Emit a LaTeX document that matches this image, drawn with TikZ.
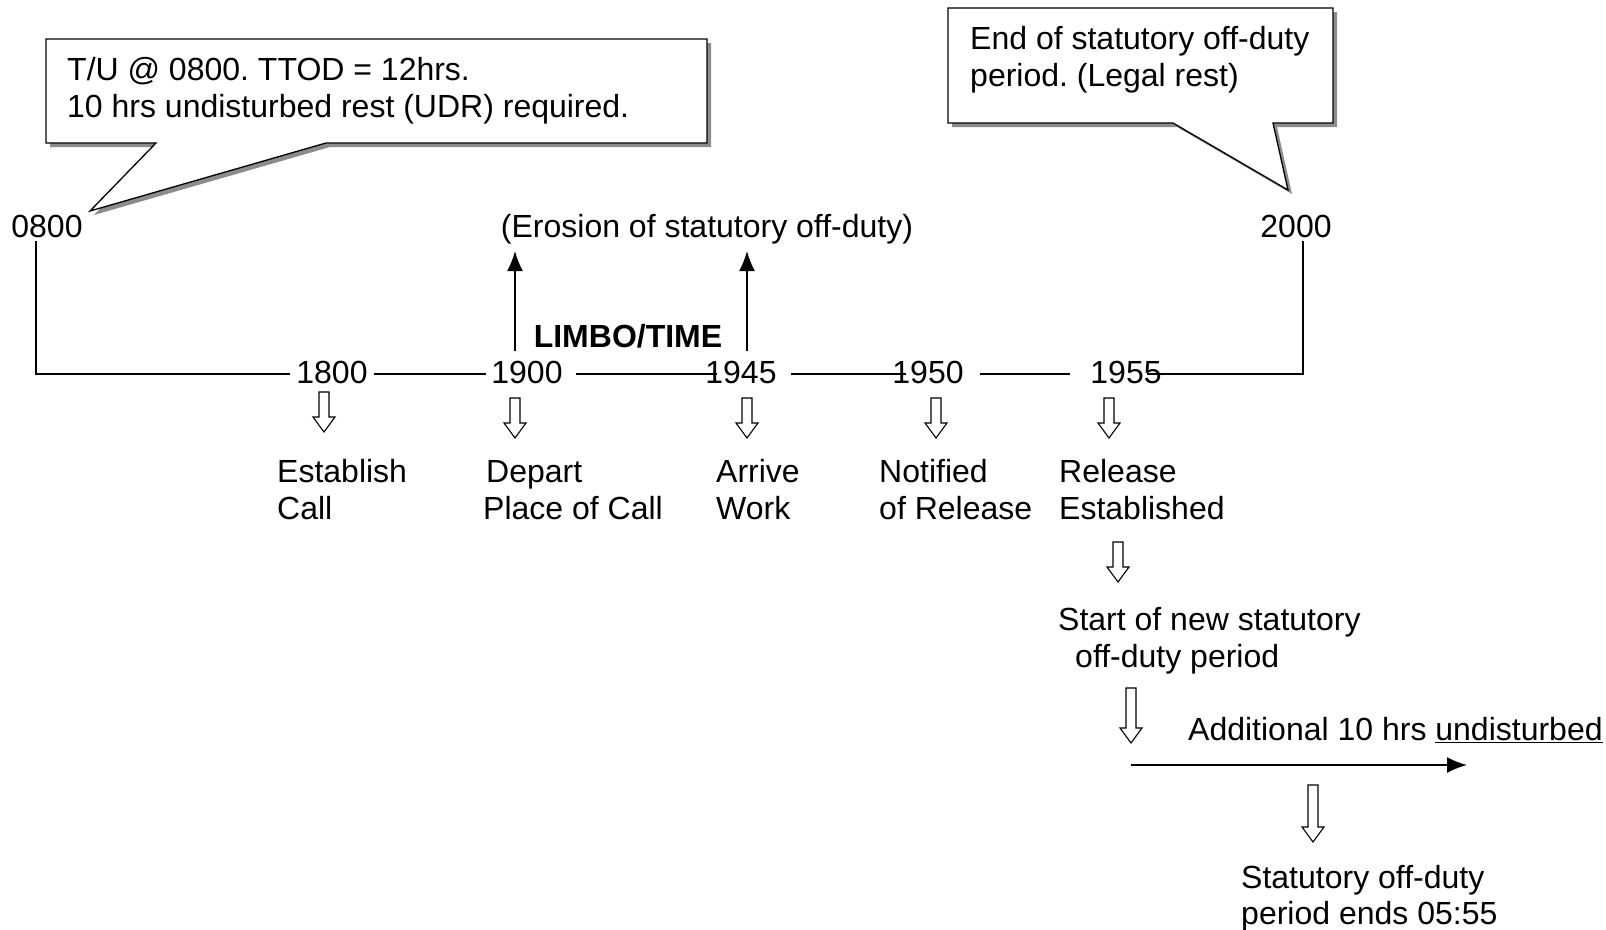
\documentclass[tikz,border=0pt]{standalone}
\usepackage{fontspec}
\setmainfont{Liberation Sans}
\frenchspacing
\usetikzlibrary{arrows.meta}
\tikzset{
  lbl/.style={inner sep=0pt, anchor=base west, font=\fontsize{32}{37}\selectfont},
  lblc/.style={inner sep=0pt, anchor=base, font=\fontsize{32}{37}\selectfont},
  tl/.style={line width=1.4pt},
  uparr/.style={line width=1.8pt, -{Latex[length=20pt,width=16pt]}},
  hollow/.style={line width=1.1pt, fill=white, line join=miter},
  callout/.style={line width=1.3pt, fill=white, line join=miter},
  shadow/.style={fill=black!45}
}
\newcommand{\hdarrow}[3]{% x, top, bottom
  \draw[hollow] (#1-5,#2) -- (#1+5,#2) -- (#1+5,#3-15) -- (#1+11,#3-15) -- (#1,#3) -- (#1-11,#3-15) -- (#1-5,#3-15) -- cycle;}
\begin{document}
\begin{tikzpicture}[x=1pt,y=-1pt]
\useasboundingbox (0,0) rectangle (1606,929);
% callout 1
\fill[shadow] (50,43) -- (711,43) -- (711,147) -- (330,147) -- (94,215) -- (160,147) -- (50,147) -- cycle;
\draw[callout] (46,39) -- (707,39) -- (707,143) -- (326,143) -- (90,211) -- (156,143) -- (46,143) -- cycle;
\node[lbl] (c1a) at (67,80) {T/U @ 0800. TTOD = 12hrs.};
\node[lbl] (c1b) at (67,117) {10 hrs undisturbed rest (UDR) required.};
% callout 2
\fill[shadow] (952,12) -- (1337,12) -- (1337,127) -- (1277,127) -- (1292,194) -- (1177,127) -- (952,127) -- cycle;
\draw[callout] (948,8) -- (1333,8) -- (1333,123) -- (1273,123) -- (1288,190) -- (1173,123) -- (948,123) -- cycle;
\node[lbl] (c2a) at (970,49) {End of statutory off-duty};
\node[lbl] (c2b) at (970,86) {period. (Legal rest)};
% top labels
\node[lblc] (t0800) at (47,237.5) {0800};
\node[lblc] (t2000) at (1296,237.5) {2000};
\node[lblc] (eros) at (707,237.5) {(Erosion of statutory off-duty)};
\node[lblc, font=\fontsize{32}{37}\selectfont\bfseries] (limbo) at (628,347.5) {LIMBO/TIME};
% timeline numbers
\node[lblc] (t1800) at (332,383.5) {1800};
\node[lblc] (t1900) at (527,383.5) {1900};
\node[lblc] (t1945) at (741,383.5) {1945};
\node[lblc] (t1950) at (928,383.5) {1950};
\node[lblc] (t1955) at (1126,383.5) {1955};
% timeline lines
\coordinate (lt) at (36,241);
\coordinate (lb) at (36,374);
\coordinate (rt) at (1303,241);
\coordinate (rb) at (1303,374);
\draw[tl] (lt) -- (lb) -- (290,374);
\draw[tl] (374,374) -- (486,374);
\draw[tl] (576,374) -- (717,374);
\draw[tl] (791,374) -- (906,374);
\draw[tl] (980,374) -- (1070,374);
\draw[tl] (1147,374) -- (rb) -- (rt);
% up arrows
\coordinate (ua1) at (515,351);
\coordinate (ua1t) at (515,251);
\coordinate (ua2) at (747,351);
\coordinate (ua2t) at (747,251);
\draw[uparr] (ua1) -- (ua1t);
\draw[uparr] (ua2) -- (ua2t);
% hollow arrows
\hdarrow{324}{392}{432}
\hdarrow{515}{398}{438}
\hdarrow{747}{398}{438}
\hdarrow{936}{398}{438}
\hdarrow{1109}{398}{438}
\hdarrow{1118}{542}{582}
\hdarrow{1131}{688}{743}
\hdarrow{1313}{785}{842}
% labels
\node[lbl] (l1a) at (277,482.5) {Establish};
\node[lbl] (l1b) at (277,519.5) {Call};
\node[lbl] (l2a) at (486,482.5) {Depart};
\node[lbl] (l2b) at (483,519.5) {Place of Call};
\node[lbl] (l3a) at (716,482.5) {Arrive};
\node[lbl] (l3b) at (716,519.5) {Work};
\node[lbl] (l4a) at (879,482.5) {Notified};
\node[lbl] (l4b) at (879,519.5) {of Release};
\node[lbl] (l5a) at (1059,482.5) {Release};
\node[lbl] (l5b) at (1059,519.5) {Established};
\node[lbl] (s1) at (1058,630) {Start of new statutory};
\node[lbl] (s2) at (1075,667) {off-duty period};
\node[lbl] (add) at (1188,740.5) {Additional 10 hrs \underline{undisturbed}};
\coordinate (ha) at (1131,765);
\coordinate (hb) at (1467,765);
\draw[uparr] (ha) -- (hb);
\node[lbl] (e1) at (1241,888) {Statutory off-duty};
\node[lbl] (e2) at (1241,924) {period ends 05:55};
\end{tikzpicture}
\end{document}
